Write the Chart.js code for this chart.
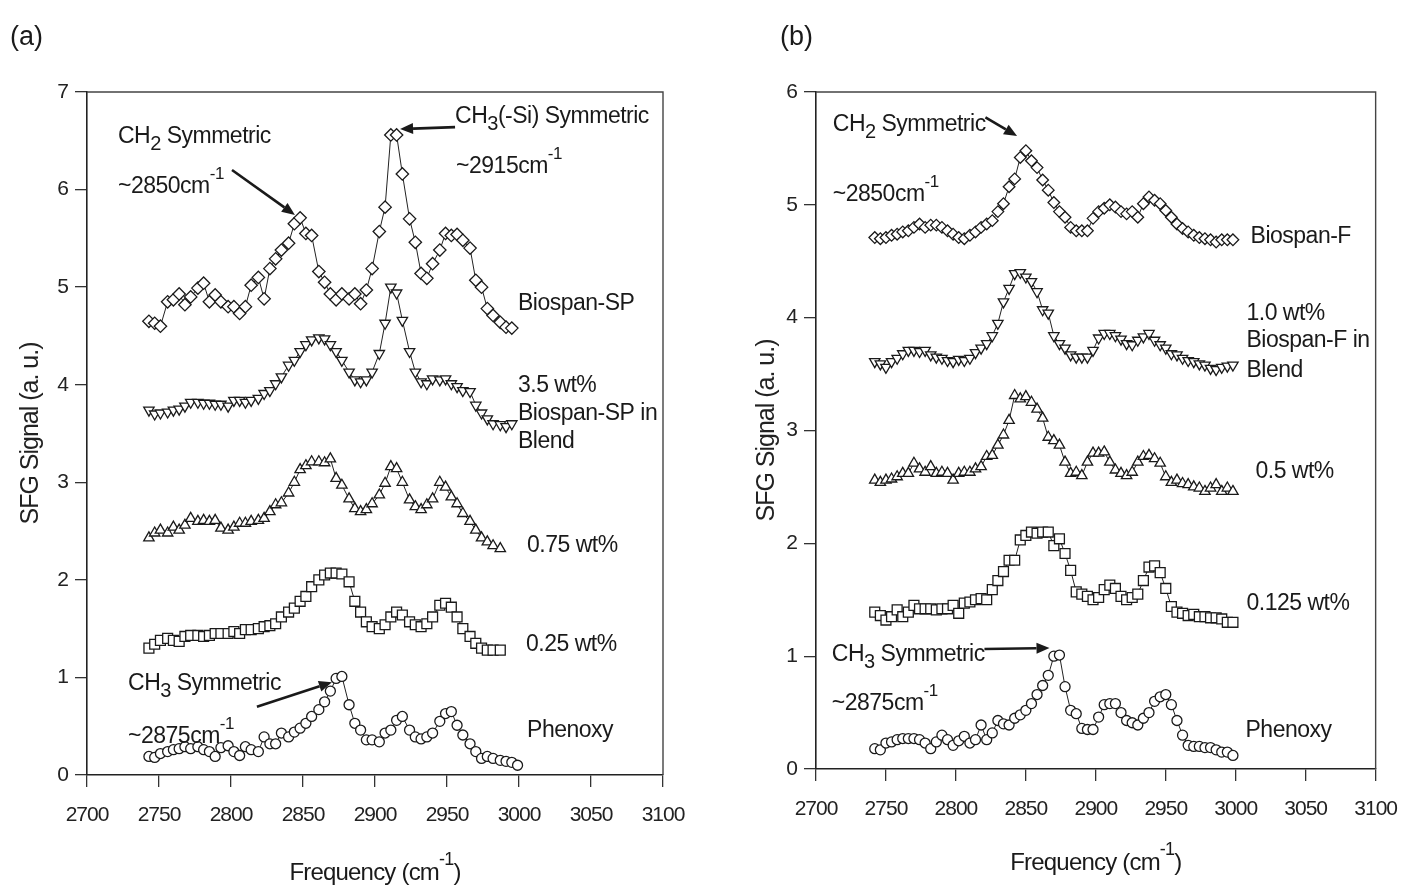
<!DOCTYPE html>
<html><head><meta charset="utf-8">
<script src="https://cdn.jsdelivr.net/npm/chart.js@4.4.1/dist/chart.umd.min.js"></script>
<style>
html,body{margin:0;padding:0;background:#fff;}
#wrap{position:relative;width:1415px;height:886px;overflow:hidden;background:#fff;}
canvas{position:absolute;top:0;}
</style></head><body>
<div id="wrap">
<canvas id="ca" width="707" height="886" style="left:0px"></canvas>
<canvas id="cb" width="708" height="886" style="left:707px"></canvas>
</div>
<script>
const FONT = '"Liberation Sans", Arial, Helvetica, sans-serif';

// ---------- Panel (a) ----------
const FREQ_A = [2743,2747,2751,2756,2760,2764,2768,2772,2777,2781,
  2785,2789,2793,2798,2802,2806,2810,2814,2819,2823,
  2827,2831,2835,2840,2844,2848,2852,2856,2861,2865,
  2869,2873,2877,2882,2886,2890,2894,2898,2903,2907,
  2911,2915,2919,2924,2928,2932,2936,2940,2945,2949,
  2953,2957,2961,2966,2970,2974,2978,2982,2987,2991,
  2995,2999];
const A_BIOSPAN_SP = [4.65,4.63,4.6,4.85,4.87,4.93,4.82,4.9,4.99,5.04,
  4.85,4.92,4.85,4.8,4.8,4.73,4.8,5.02,5.1,4.88,
  5.19,5.29,5.38,5.45,5.65,5.71,5.55,5.53,5.16,5.05,
  4.93,4.87,4.93,4.88,4.93,4.83,4.97,5.19,5.57,5.82,
  6.56,6.56,6.16,5.7,5.46,5.14,5.09,5.24,5.38,5.55,
  5.53,5.54,5.48,5.4,5.07,5.0,4.78,4.71,4.64,4.59,
  4.58,null];
const A_35WT = [3.74,3.7,3.71,3.72,3.74,3.75,3.78,3.82,3.82,3.81,
  3.81,3.8,3.8,3.78,3.84,3.84,3.82,3.84,3.86,3.91,
  3.94,4.01,4.08,4.2,4.25,4.34,4.41,4.46,4.48,4.47,
  4.41,4.34,4.25,4.13,4.05,4.03,4.05,4.13,4.32,4.63,
  5.0,4.94,4.66,4.34,4.13,4.03,4.01,4.06,4.05,4.06,
  4.01,3.98,3.94,3.93,3.79,3.71,3.65,3.6,3.59,3.57,
  3.6,null];
const A_075WT = [2.43,2.48,2.51,2.48,2.54,2.51,2.56,2.63,2.6,2.61,
  2.6,2.61,2.53,2.51,2.54,2.58,2.58,2.6,2.61,2.63,
  2.7,2.77,2.79,2.89,3.0,3.13,3.17,3.21,3.21,3.2,
  3.24,3.04,2.97,2.83,2.73,2.7,2.72,2.78,2.87,2.99,
  3.16,3.14,3.0,2.82,2.75,2.72,2.77,2.83,3.0,2.95,
  2.85,2.78,2.68,2.6,2.51,2.43,2.39,2.35,2.32,null,
  null,null];
const A_025WT = [1.3,1.34,1.38,1.4,1.38,1.37,1.42,1.43,1.43,1.42,
  1.43,1.45,1.45,1.45,1.47,1.45,1.49,1.49,1.5,1.52,
  1.53,1.55,1.62,1.67,1.71,1.78,1.83,1.93,2.0,2.05,
  2.07,2.07,2.06,1.98,1.78,1.67,1.57,1.52,1.5,1.54,
  1.62,1.67,1.64,1.57,1.54,1.52,1.55,1.62,1.74,1.76,
  1.72,1.62,1.5,1.42,1.35,1.3,1.28,1.28,1.28,null,
  null,null];
const A_PHENOXY = [0.19,0.18,0.22,0.24,0.26,0.27,0.29,0.27,0.29,0.26,
  0.24,0.19,0.28,0.3,0.24,0.2,0.29,0.26,0.24,0.39,
  0.32,0.32,0.43,0.39,0.44,0.48,0.53,0.6,0.67,0.75,
  0.86,0.99,1.01,0.72,0.53,0.46,0.36,0.36,0.34,0.43,
  0.46,0.56,0.6,0.46,0.39,0.37,0.39,0.43,0.55,0.63,
  0.65,0.51,0.41,0.32,0.24,0.17,0.19,0.17,0.15,0.14,
  0.13,0.1];

// ---------- Panel (b) ----------
const FREQ_B = [2742,2746,2750,2754,2758,2762,2766,2770,2774,2778,
  2782,2786,2790,2794,2798,2802,2806,2810,2814,2818,
  2822,2826,2830,2834,2838,2842,2846,2850,2854,2858,
  2862,2866,2870,2874,2878,2882,2886,2890,2894,2898,
  2902,2906,2910,2914,2918,2922,2926,2930,2934,2938,
  2942,2946,2950,2954,2958,2962,2966,2970,2974,2978,
  2982,2986,2990,2994,2998];
const B_BIOSPAN_F = [4.71,4.7,4.71,4.73,4.74,4.76,4.77,4.8,4.83,4.8,
  4.82,4.82,4.8,4.77,4.74,4.71,4.7,4.73,4.76,4.8,
  4.83,4.86,4.94,5.01,5.16,5.23,5.42,5.48,5.39,5.33,
  5.22,5.13,5.02,4.94,4.89,4.8,4.77,4.77,4.77,4.88,
  4.94,4.97,5.0,4.98,4.94,4.92,4.94,4.89,5.01,5.07,
  5.04,5.01,4.95,4.89,4.83,4.79,4.76,4.73,4.71,4.7,
  4.69,4.67,4.69,4.69,4.69];
const B_10WT = [3.61,3.59,3.56,3.61,3.64,3.68,3.71,3.71,3.7,3.71,
  3.67,3.65,3.64,3.62,3.61,3.63,3.62,3.64,3.69,3.73,
  3.77,3.84,3.95,4.14,4.26,4.39,4.4,4.36,4.32,4.23,
  4.07,4.04,3.84,3.77,3.73,3.67,3.65,3.65,3.65,3.71,
  3.82,3.86,3.86,3.84,3.81,3.77,3.76,3.8,3.83,3.86,
  3.8,3.76,3.73,3.68,3.67,3.64,3.62,3.61,3.59,3.58,
  3.55,3.54,3.56,3.57,3.58];
const B_05WT = [2.56,2.54,2.56,2.57,2.59,2.62,2.62,2.71,2.66,2.63,
  2.68,2.62,2.63,2.62,2.56,2.62,2.63,2.63,2.66,2.68,
  2.77,2.78,2.87,2.96,3.09,3.31,3.28,3.3,3.25,3.19,
  3.11,2.94,2.91,2.87,2.72,2.62,2.63,2.6,2.72,2.8,
  2.8,2.81,2.72,2.65,2.62,2.6,2.63,2.72,2.77,2.78,
  2.75,2.71,2.59,2.54,2.56,2.53,2.52,2.5,2.49,2.46,
  2.49,2.52,2.46,2.49,2.46];
const B_0125WT = [1.39,1.36,1.32,1.35,1.41,1.35,1.39,1.45,1.42,1.42,
  1.42,1.41,1.42,1.42,1.45,1.38,1.47,1.48,1.5,1.51,
  1.5,1.59,1.67,1.75,1.85,1.85,2.03,2.07,2.1,2.09,
  2.1,2.1,1.98,2.04,1.91,1.76,1.57,1.55,1.53,1.5,
  1.52,1.59,1.63,1.6,1.53,1.5,1.52,1.55,1.67,1.79,
  1.8,1.74,1.6,1.44,1.39,1.38,1.36,1.37,1.35,1.35,
  1.34,1.34,1.33,1.3,1.3];
const B_PHENOXY = [0.18,0.17,0.23,0.24,0.26,0.27,0.27,0.27,0.26,0.23,
  0.18,0.24,0.3,0.26,0.21,0.25,0.29,0.23,0.26,0.39,
  0.26,0.32,0.43,0.4,0.39,0.45,0.48,0.52,0.58,0.66,
  0.74,0.83,1.0,1.01,0.73,0.52,0.49,0.36,0.35,0.35,
  0.46,0.57,0.58,0.58,0.5,0.43,0.41,0.39,0.45,0.5,
  0.6,0.64,0.66,0.57,0.43,0.3,0.21,0.2,0.2,0.19,
  0.19,0.17,0.15,0.15,0.12];

const X_TICK_MIN = 2700, X_TICK_MAX = 3100, X_STEP = 50;
const Y_MAX_A = 7, Y_MAX_B = 6;

// annotation texts (anchored in data units)
const NOTES_A = [
  {x:2721.5, y:6.48, parts:['CH',{t:'2',k:'sub'},' Symmetric']},
  {x:2721.5, y:5.965, parts:['~2850cm',{t:'-1',k:'sup'}]},
  {x:2955.6, y:6.68, parts:['CH',{t:'3',k:'sub'},'(-Si) Symmetric']},
  {x:2956.3, y:6.17, parts:['~2915cm',{t:'-1',k:'sup'}]},
  {x:2999.3, y:4.77, parts:['Biospan-SP']},
  {x:2999.3, y:3.93, parts:['3.5 wt%']},
  {x:2999.3, y:3.64, parts:['Biospan-SP in']},
  {x:2999.3, y:3.35, parts:['Blend']},
  {x:3005.6, y:2.29, parts:['0.75 wt%']},
  {x:3004.9, y:1.27, parts:['0.25 wt%']},
  {x:3005.6, y:0.39, parts:['Phenoxy']},
  {x:2728.5, y:0.87, parts:['CH',{t:'3',k:'sub'},' Symmetric']},
  {x:2728.5, y:0.33, parts:['~2875cm',{t:'-1',k:'sup'}]}
];
const ARROWS_A = [
  {x1:2800.7, y1:6.2, x2:2844.4, y2:5.74},
  {x1:2955.6, y1:6.64, x2:2917.4, y2:6.62},
  {x1:2818, y1:0.70, x2:2870.1, y2:0.95}
];
const NOTES_B = [
  {x:2712, y:5.65, parts:['CH',{t:'2',k:'sub'},' Symmetric']},
  {x:2712, y:5.03, parts:['~2850cm',{t:'-1',k:'sup'}]},
  {x:3010.6, y:4.66, parts:['Biospan-F']},
  {x:3007.7, y:3.98, parts:['1.0 wt%']},
  {x:3007.7, y:3.74, parts:['Biospan-F in']},
  {x:3007.7, y:3.47, parts:['Blend']},
  {x:3014.1, y:2.58, parts:['0.5 wt%']},
  {x:3007.7, y:1.41, parts:['0.125 wt%']},
  {x:3007, y:0.28, parts:['Phenoxy']},
  {x:2711.3, y:0.957, parts:['CH',{t:'3',k:'sub'},' Symmetric']},
  {x:2711.3, y:0.52, parts:['~2875cm',{t:'-1',k:'sup'}]}
];
const ARROWS_B = [
  {x1:2821.1, y1:5.775, x2:2843.7, y2:5.61},
  {x1:2820.4, y1:1.063, x2:2866.9, y2:1.072}
];

function pts(freq, vals){
  const out = [];
  vals.forEach((v,i)=>{ if (v !== null) out.push({x:freq[i], y:v}); });
  return out;
}
function series(label, freq, vals, style, radius, rotation){
  return {label, data: pts(freq, vals), showLine:true, borderColor:'#222', borderWidth:1,
    pointStyle:style, pointRadius:radius, pointRotation:rotation||0,
    pointBackgroundColor:'#fff', pointBorderColor:'#1a1a1a', pointBorderWidth:1.3,
    tension:0, fill:false};
}

function drawRich(ctx, x, y, parts, size, align){
  const segs = parts.map(p => typeof p === 'string' ? {t:p,k:'n'} : p);
  const fs = s => s.k === 'n' ? size : Math.round(size*(s.k==='sub'?0.85:0.75));
  let total = 0;
  segs.forEach(s => { ctx.font = fs(s)+'px '+FONT; total += ctx.measureText(s.t).width; });
  let cx = align === 'center' ? x - total/2 : x;
  segs.forEach(s => {
    ctx.font = fs(s)+'px '+FONT;
    const dy = s.k === 'sub' ? size*0.3 : (s.k === 'sup' ? -size*0.62 : 0);
    ctx.fillText(s.t, cx, y + dy);
    cx += ctx.measureText(s.t).width;
  });
}
function arrow(ctx, x1, y1, x2, y2){
  const a = Math.atan2(y2-y1, x2-x1), L = 13, W = 5.5;
  const bx = x2 - Math.cos(a)*L, by = y2 - Math.sin(a)*L;
  ctx.beginPath(); ctx.moveTo(x1,y1); ctx.lineTo(bx,by); ctx.lineWidth = 2.6; ctx.stroke();
  ctx.beginPath(); ctx.moveTo(x2,y2);
  ctx.lineTo(bx + Math.sin(a)*W, by - Math.cos(a)*W);
  ctx.lineTo(bx - Math.sin(a)*W, by + Math.cos(a)*W);
  ctx.closePath(); ctx.fill();
}

function decorPlugin(panelLabel, labelX, notes, arrows, xTitleOffset){
  return {
    id:'decor',
    beforeDraw(chart){ chart.ctx.letterSpacing = '-1px'; },
    afterDraw(chart){
      const ctx = chart.ctx, ca = chart.chartArea;
      const xs = chart.scales.x, ys = chart.scales.y;
      ctx.save();
      // frame top & right
      ctx.strokeStyle = '#444'; ctx.lineWidth = 1.4;
      ctx.beginPath(); ctx.moveTo(ca.left, ca.top); ctx.lineTo(ca.right, ca.top); ctx.lineTo(ca.right, ca.bottom); ctx.stroke();
      ctx.fillStyle = '#1a1a1a'; ctx.strokeStyle = '#1a1a1a';
      ctx.textBaseline = 'alphabetic'; ctx.textAlign = 'left';
      ctx.letterSpacing = '-0.5px';
      notes.forEach(n => drawRich(ctx, xs.getPixelForValue(n.x), ys.getPixelForValue(n.y), n.parts, 23, 'left'));
      arrows.forEach(a => arrow(ctx, xs.getPixelForValue(a.x1), ys.getPixelForValue(a.y1), xs.getPixelForValue(a.x2), ys.getPixelForValue(a.y2)));
      // x axis title
      ctx.letterSpacing = '-0.8px';
      drawRich(ctx, (ca.left+ca.right)/2, ca.bottom + xTitleOffset, ['Frequency (cm',{t:'-1',k:'sup'},')'], 24, 'center');
      // panel label
      ctx.letterSpacing = '0px';
      drawRich(ctx, labelX, 45, [panelLabel], 27, 'left');
      ctx.restore();
    }
  };
}

function makeChart(id, datasets, yMax, yWidth, xHeight, pad, yTitlePad, plugin){
  return new Chart(document.getElementById(id), {
    type:'scatter',
    data:{datasets},
    options:{
      responsive:false, animation:false, devicePixelRatio:1,
      layout:{padding:pad},
      plugins:{legend:{display:false}, tooltip:{enabled:false}},
      scales:{
        x:{type:'linear', position:'bottom', min:X_TICK_MIN, max:X_TICK_MAX,
          ticks:{stepSize:X_STEP, autoSkip:false, maxRotation:0, color:'#222', padding:16,
            font:{family:FONT, size:21}, callback:v=>String(v)},
          grid:{drawOnChartArea:false, drawTicks:true, tickLength:12, color:'#333', lineWidth:1.3},
          border:{display:true, color:'#222', width:1.6},
          afterFit:s=>{ s.height = xHeight; }},
        y:{type:'linear', position:'left', min:0, max:yMax,
          ticks:{stepSize:1, color:'#222', padding:7, font:{family:FONT, size:21}, callback:v=>String(v)},
          grid:{drawOnChartArea:false, drawTicks:true, tickLength:12, color:'#333', lineWidth:1.3},
          border:{display:true, color:'#222', width:1.6},
          title:{display:true, text:'SFG Signal (a. u.)', color:'#222', font:{family:FONT, size:25}, padding:{top:yTitlePad, bottom:0}},
          afterFit:s=>{ s.width = yWidth; }}
      }
    },
    plugins:[plugin]
  });
}

makeChart('ca', [
  series('Biospan-SP', FREQ_A, A_BIOSPAN_SP, 'rectRot', 6.2),
  series('3.5 wt% Biospan-SP in Blend', FREQ_A, A_35WT, 'triangle', 6, 180),
  series('0.75 wt%', FREQ_A, A_075WT, 'triangle', 6),
  series('0.25 wt%', FREQ_A, A_025WT, 'rect', 7),
  series('Phenoxy', FREQ_A, A_PHENOXY, 'circle', 5)
], Y_MAX_A, 87, 111, {left:0, top:92, right:44, bottom:0}, 16,
  decorPlugin('(a)', 10, NOTES_A, ARROWS_A, 105));

makeChart('cb', [
  series('Biospan-F', FREQ_B, B_BIOSPAN_F, 'rectRot', 5.8),
  series('1.0 wt% Biospan-F in Blend', FREQ_B, B_10WT, 'triangle', 6, 180),
  series('0.5 wt%', FREQ_B, B_05WT, 'triangle', 6),
  series('0.125 wt%', FREQ_B, B_0125WT, 'rect', 7),
  series('Phenoxy', FREQ_B, B_PHENOXY, 'circle', 5)
], Y_MAX_B, 109, 117, {left:0, top:92, right:30, bottom:0}, 45,
  decorPlugin('(b)', 73, NOTES_B, ARROWS_B, 101));
</script>
</body></html>
